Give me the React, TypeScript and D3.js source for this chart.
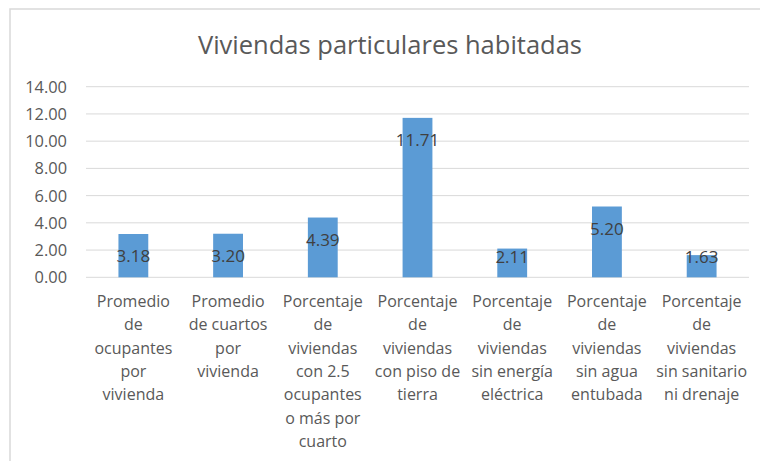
import React from "react";
import * as d3 from "d3";

const title = "Viviendas particulares habitadas";
const categories: string[][] = [
  ["Promedio", "de", "ocupantes", "por", "vivienda"],
  ["Promedio", "de cuartos", "por", "vivienda"],
  ["Porcentaje", "de", "viviendas", "con 2.5", "ocupantes", "o más por", "cuarto"],
  ["Porcentaje", "de", "viviendas", "con piso de", "tierra"],
  ["Porcentaje", "de", "viviendas", "sin energía", "eléctrica"],
  ["Porcentaje", "de", "viviendas", "sin agua", "entubada"],
  ["Porcentaje", "de", "viviendas", "sin sanitario", "ni drenaje"],
];
const values: number[] = [3.18, 3.2, 4.39, 11.71, 2.11, 5.2, 1.63];
const yTicks: number[] = [0, 2, 4, 6, 8, 10, 12, 14];

const W = 760;
const H = 461;
const FONT = "'Open Sans', sans-serif";

export default function App() {
  const x = d3
    .scaleBand<number>()
    .domain(values.map((_, i) => i))
    .range([86, 749])
    .paddingInner(0.685)
    .paddingOuter(0.3425);
  const y = d3.scaleLinear().domain([0, 14]).range([277.3, 86.7]);
  const bw = x.bandwidth();

  return (
    <svg
      width={W}
      height={H}
      style={{ position: "absolute", left: 0, top: 0, background: "#fff" }}
      fontFamily={FONT}
    >
      <rect x={0} y={0} width={W} height={H} fill="#fff" />
      <rect x={10} y={9} width={W + 20} height={H + 20} fill="none" stroke="#D9D9D9" strokeWidth={1.5} />
      <text x={390} y={54} textAnchor="middle" fontSize={25.5} fill="#595959">
        {title}
      </text>
      {yTicks.map((t) => (
        <g key={t}>
          <line x1={86} x2={749} y1={y(t)} y2={y(t)} stroke="#D9D9D9" strokeWidth={1} />
          <text x={67} y={y(t)} dy="0.36em" textAnchor="end" fontSize={16.4} fill="#595959">
            {d3.format(".2f")(t)}
          </text>
        </g>
      ))}
      {values.map((v, i) => (
        <rect key={i} x={x(i)} y={y(v)} width={bw} height={y(0) - y(v)} fill="#5B9BD5" />
      ))}
      {values.map((v, i) => (
        <text
          key={i}
          x={(x(i) as number) + bw / 2}
          y={Math.min(y(v) + 22, y(0) - 20.5)}
          dy="0.36em"
          textAnchor="middle"
          fontSize={17}
          fill="#404040"
        >
          {d3.format(".2f")(v)}
        </text>
      ))}
      {categories.map((lines, i) => (
        <text
          key={i}
          x={(x(i) as number) + bw / 2}
          y={307}
          textAnchor="middle"
          fontSize={16}
          fill="#595959"
        >
          {lines.map((l, j) => (
            <tspan key={j} x={(x(i) as number) + bw / 2} dy={j === 0 ? 0 : 23.3}>
              {l}
            </tspan>
          ))}
        </text>
      ))}
    </svg>
  );
}
